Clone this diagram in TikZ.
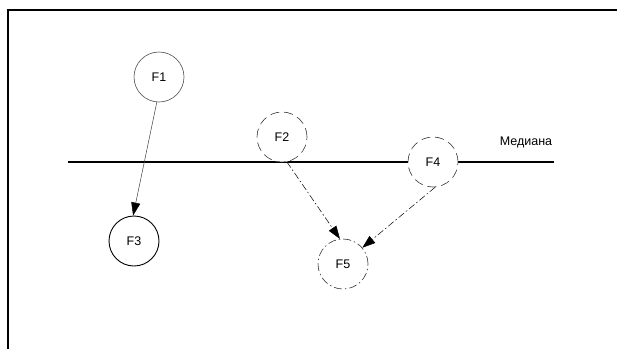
\documentclass[tikz,border=0pt]{standalone}
\usepackage{fontspec}
\setmainfont{Liberation Sans}
\usetikzlibrary{arrows.meta}
\tikzset{
  fnode/.style={circle, minimum size=50pt, inner sep=0pt, font=\fontsize{12.5}{14}\selectfont},
  solidc/.style={fnode, draw=black!70, line width=0.6pt},
  boldc/.style={fnode, draw=black, line width=0.9pt},
  dashc/.style={fnode, draw=black!80, line width=0.6pt, dash pattern=on 9pt off 5pt},
  dotc/.style={fnode, draw=black!80, line width=0.6pt, dash pattern=on 8pt off 3pt on 1.5pt off 3pt},
  arr/.style={-{Triangle[length=13pt,width=9pt,black]}, line width=0.5pt},
  ddarr/.style={arr, dash pattern=on 7pt off 2.5pt on 1.5pt off 2.5pt},
  frame/.style={line width=1.4pt, black},
  median/.style={line width=1.2pt, black}
}
\begin{document}
\begin{tikzpicture}[x=1pt,y=-1pt]
\useasboundingbox (0,0) rectangle (617,349);
\coordinate (fb) at (8,349);
\coordinate (fc) at (8,10);
\coordinate (fr) at (617,10);
\draw[frame] (fb) -- (fc) -- (fr);
\coordinate (mL) at (68,162);
\coordinate (mR) at (554,162);
\draw[median] (mL) -- (mR);
\node[font=\fontsize{12.5}{14}\selectfont] (med) at (526,142) {Медиана};
\node[solidc] (F1) at (159,77) {F1};
\node[boldc] (F3) at (134,241) {F3};
\node[dashc, fill=white] (F2) at (282,137) {F2};
\node[dashc, fill=white] (F4) at (433,162) {F4};
\node[dotc] (F5) at (343,264) {F5};
\draw[arr, black!75] (F1.-95) -- (F3.92);
\draw[ddarr] (F2.-79) -- (F5.97);
\draw[ddarr] (F4.-85) -- (F5.40);
\end{tikzpicture}
\end{document}
